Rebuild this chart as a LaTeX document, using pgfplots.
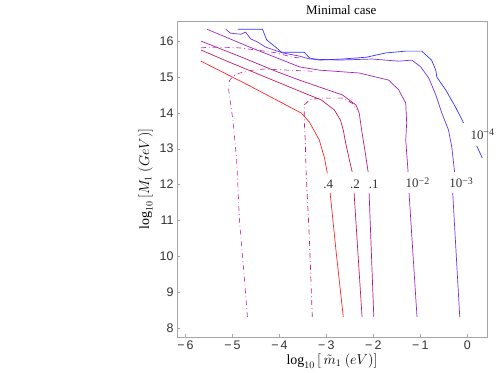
\documentclass[border=0pt]{standalone}
\usepackage{fontspec}
\setmainfont{Liberation Serif}
\setsansfont{Liberation Sans}
\usepackage{pgfplots}
\pgfplotsset{compat=1.18}

\definecolor{cA}{rgb}{1.00,0.15,0.15}   % .4
\definecolor{cB}{rgb}{0.80,0.10,0.35}   % .2
\definecolor{cC}{rgb}{0.72,0.10,0.55}   % .1
\definecolor{cD}{rgb}{0.62,0.15,0.75}   % 1e-2
\definecolor{cE}{rgb}{0.45,0.20,0.90}   % 1e-3
\definecolor{cF}{rgb}{0.20,0.20,1.00}   % 1e-4
\definecolor{dA}{rgb}{0.78,0.25,0.70}
\definecolor{dB}{rgb}{0.70,0.20,0.75}
\definecolor{dD}{rgb}{0.78,0.12,0.45}

\newcommand{\pw}[1]{10\raisebox{0.55ex}{\fontsize{10}{11}\selectfont #1}}

\begin{document}
\begin{tikzpicture}
\begin{axis}[
  scale only axis, width=310bp, height=316bp,
  xmin=-6.18, xmax=0.42, ymin=7.75, ymax=16.56,
  clip=false, unbounded coords=jump,
  axis line style={gray!70}, tick style={gray!70},
  tick align=inside, xtick pos=bottom, ytick pos=left,
  major tick length=3bp,
  xtick={-6,-5,-4,-3,-2,-1,0},
  xticklabels={−\,6,−\,5,−\,4,−\,3,−\,2,−\,1,0},
  ytick={8,9,10,11,12,13,14,15,16},
  yticklabels={8,9,10,11,12,13,14,15,16},
  ticklabel style={font=\sffamily\fontsize{12.5}{14}\selectfont, text=black!80},
  title={Minimal case},
  title style={font=\fontsize{13}{15}\selectfont, at={(0.53,1)}, yshift=-3bp},
  xlabel={$\log_{10}\,\Bigl[\,\tilde{m}_1\ (eV)\Bigr]$},
  ylabel={$\log_{10}\,\Bigl[M_1\ (GeV)\Bigr]$},
  label style={font=\fontsize{14}{16}\selectfont},
  xlabel style={yshift=3bp},
  every axis plot/.append style={line width=0.7pt, no marks},
]
% solid contours
\addplot[cA] coordinates {(-5.67,15.44) (-4.63,14.75) (-3.53,13.99) (-3.36,13.74) (-3.15,13.24) (-3.04,12.74) (-2.98,12.32) (-2.95,nan) (-2.92,11.77) (-2.79,10.10) (-2.64,8.31)};
\addplot[cB] coordinates {(-5.67,15.75) (-5.08,15.42) (-4.36,15.03) (-3.47,14.55) (-3.11,14.36) (-2.83,14.08) (-2.70,13.80) (-2.64,13.52) (-2.58,13.10) (-2.51,12.69) (-2.45,12.35) (-2.43,nan) (-2.41,11.77) (-2.24,8.31)};
\addplot[cC] coordinates {(-5.67,16.00) (-4.80,15.55) (-4.04,15.14) (-3.57,14.91) (-3.15,14.72) (-2.66,14.50) (-2.37,14.22) (-2.30,13.99) (-2.24,13.44) (-2.18,12.96) (-2.11,12.35) (-2.10,nan) (-2.09,11.77) (-1.99,8.31)};
\addplot[cD] coordinates {(-5.54,16.33) (-4.63,15.83) (-3.57,15.28) (-3.15,15.19) (-2.30,15.11) (-1.67,14.91) (-1.46,14.64) (-1.31,14.27) (-1.29,13.72) (-1.31,13.24) (-1.26,12.35) (-1.25,nan) (-1.24,11.77) (-1.07,8.31)};
\addplot[cE] coordinates {(-5.14,16.33) (-5.04,16.22) (-4.82,16.19) (-4.72,16.25) (-4.61,16.06) (-4.46,15.97) (-4.29,15.83) (-3.93,15.67) (-3.57,15.58) (-3.36,15.50) (-2.73,15.47) (-2.03,15.50) (-1.46,15.44) (-1.18,15.47) (-0.99,15.28) (-0.82,14.97) (-0.67,14.50) (-0.54,13.99) (-0.40,13.52) (-0.33,13.05) (-0.27,12.35) (-0.29,nan) (-0.31,11.77) (-0.16,8.31)};
\addplot[cF] coordinates {(-4.89,16.33) (-4.36,16.33) (-4.27,16.03) (-4.06,15.81) (-3.96,15.69) (-3.47,15.69) (-3.36,15.53) (-3.15,15.47) (-2.66,15.50) (-2.15,15.55) (-1.73,15.67) (-1.31,15.72) (-0.97,15.72) (-0.76,15.47) (-0.67,15.19) (-0.65,15.00) (-0.46,14.64) (-0.25,14.16) (-0.08,13.72) (0.05,nan) (0.20,13.08) (0.32,12.74)};
% dash-dotted contours
\addplot[dA, dash pattern=on 5bp off 3bp on 0.8bp off 3bp] coordinates {(-4.68,8.31) (-4.76,9.62) (-4.85,11.01) (-4.91,12.69) (-4.99,13.80) (-5.08,14.64) (-5.06,14.91) (-4.95,15.05) (-4.74,15.16) (-4.32,15.22) (-3.83,15.19) (-3.30,15.16)};
\addplot[dB, dash pattern=on 5bp off 3bp on 0.8bp off 3bp] coordinates {(-5.67,15.81) (-5.50,15.83) (-5.21,15.83) (-4.85,15.81) (-4.49,15.75) (-4.06,15.67) (-3.72,15.55) (-3.57,15.53)};
\addplot[dD, dash pattern=on 5bp off 3bp on 0.8bp off 3bp] coordinates {(-3.30,8.31) (-3.36,10.46) (-3.43,12.32) (-3.45,13.24) (-3.47,13.80) (-3.47,14.22) (-3.36,14.36) (-3.15,14.41) (-2.66,14.41) (-2.45,14.27) (-2.35,14.08)};
% contour labels
\begin{scope}[every node/.style={font=\fontsize{13}{15}\selectfont, text=black!80, inner sep=0pt}]
\node at (axis cs:-2.96,12.02) {.4};
\node at (axis cs:-2.39,12.02) {.2};
\node at (axis cs:-1.99,12.02) {.1};
\node at (axis cs:-1.06,12.05) {\pw{−2}};
\node at (axis cs:-0.13,12.05) {\pw{−3}};
\node at (axis cs:0.32,13.40) {\pw{−4}};
\end{scope}
\end{axis}
\path ([xshift=-177bp,yshift=-36bp]current axis.south west) rectangle ++(498bp,373bp);
\end{tikzpicture}
\end{document}
